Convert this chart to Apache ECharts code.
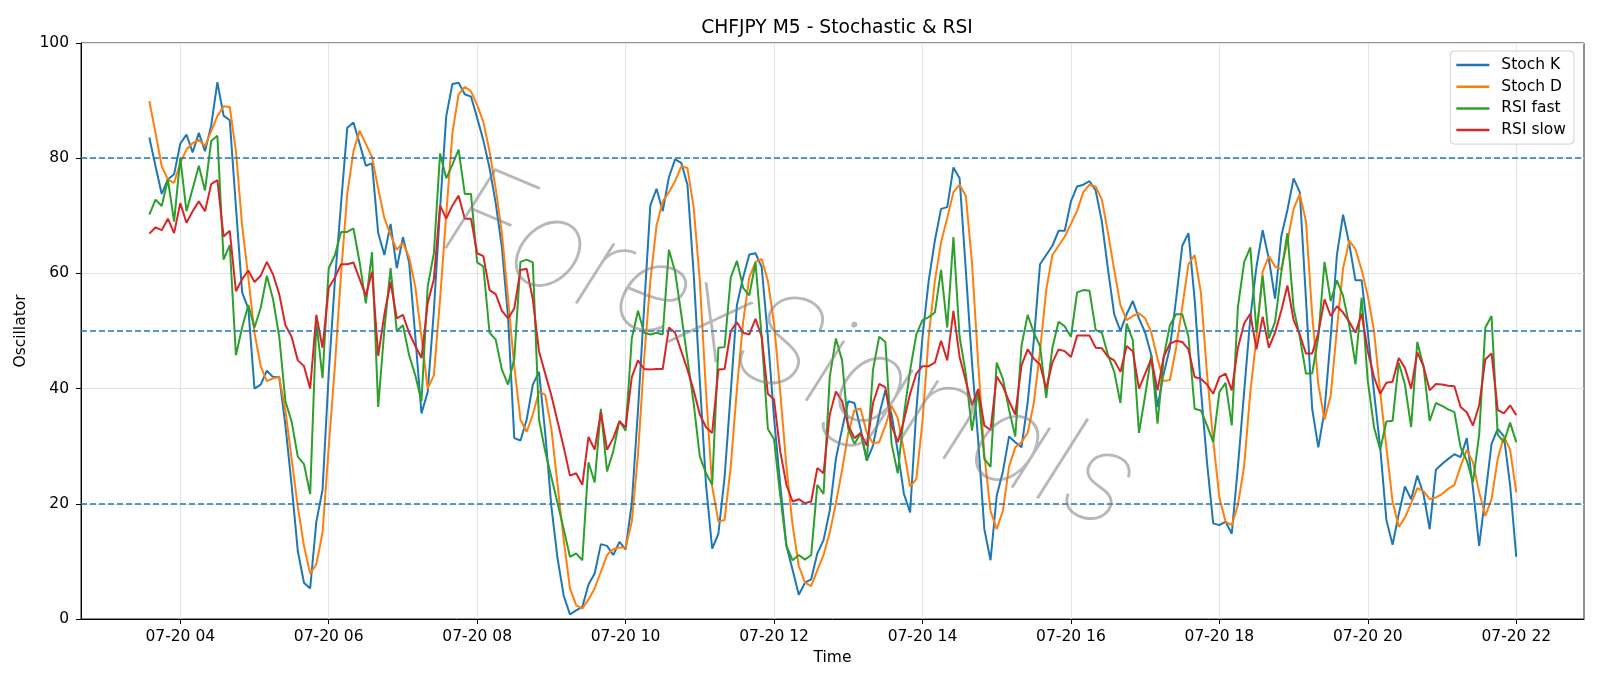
<!DOCTYPE html>
<html>
<head>
<meta charset="utf-8">
<script src="https://cdn.jsdelivr.net/npm/echarts@6/dist/echarts.min.js"></script>
<style>
html,body{margin:0;padding:0;background:#fff;}
#chart{width:1600px;height:686px;}
</style>
</head>
<body>
<div id="chart"></div>
<script>
// Time base: 07-20 03:35, 5-minute bars (M5)
const startMinute = 215;   // 03:35 in minutes since 00:00
const stepMinute = 5;
const xTicks = [240, 360, 480, 600, 720, 840, 960, 1080, 1200, 1320];
const yTicks = [0, 20, 40, 60, 80, 100];
const levels = [20, 50, 80];

const stochK = [
83.6,78.6,73.8,76.3,77.2,82.5,84.1,81.0,84.4,81.2,
85.7,93.2,87.4,86.6,71.5,56.7,53.9,40.0,40.7,43.1,
42.0,42.0,33.6,23.3,11.8,6.3,5.3,16.9,22.4,42.6,
58.7,72.2,85.3,86.2,82.5,78.7,79.1,67.0,63.2,68.6,
60.9,66.3,61.9,49.0,35.7,39.4,53.5,71.2,87.3,92.9,
93.1,91.1,90.7,87.0,83.1,78.3,72.2,64.5,52.3,31.4,
31.0,34.6,40.7,42.9,32.3,19.5,10.5,4.0,0.8,1.5,
2.1,6.0,7.9,13.0,12.7,11.1,13.4,12.1,20.1,36.2,
54.2,71.8,74.7,70.8,76.7,79.8,79.2,75.4,60.0,41.3,
23.3,12.2,14.8,24.6,39.4,54.5,59.3,63.3,63.5,61.1,
49.0,34.9,23.3,12.7,8.5,4.2,6.3,6.9,11.4,13.7,
18.8,27.8,33.0,37.8,37.5,33.0,27.5,30.1,35.5,39.7,
35.5,29.1,21.7,18.5,36.2,49.0,58.7,65.7,71.2,71.5,
78.4,76.5,60.6,44.5,31.0,15.6,10.2,21.4,25.6,31.7,
30.7,29.8,37.5,48.4,61.6,63.2,64.8,67.4,67.4,72.5,
75.1,75.4,76.0,74.4,69.0,60.6,52.9,50.0,52.9,55.2,
52.2,49.7,45.8,36.8,42.6,47.1,55.5,64.8,67.0,55.5,
40.0,27.2,16.6,16.3,16.9,14.8,26.5,39.4,52.3,61.2,
67.5,62.5,55.6,66.4,71.0,76.5,74.1,55.5,36.5,29.8,
36.2,49.0,63.2,70.2,65.1,58.8,58.8,49.7,39.4,29.8,
17.2,12.9,18.2,23.0,20.8,24.9,21.7,15.6,25.9,26.9,
27.8,28.6,28.1,31.4,22.7,12.7,21.4,30.4,33.0,31.7,
23.3,10.8
];

const stochD = [
89.9,84.4,78.6,76.3,75.7,79.2,81.5,82.6,83.2,82.1,
84.7,87.3,89.0,88.9,81.2,68.3,59.3,49.7,43.9,41.3,
41.8,42.0,36.2,27.8,19.5,12.7,7.9,9.5,15.0,29.8,
44.0,60.0,73.8,81.2,84.8,82.5,80.2,74.7,69.6,66.7,
64.1,65.3,62.8,57.7,49.0,40.0,42.3,55.5,70.2,84.4,
91.1,92.4,91.6,89.2,86.3,81.2,74.7,67.0,55.5,43.9,
34.6,32.5,35.5,39.5,38.9,33.0,23.3,13.7,5.3,2.4,
1.8,3.4,5.3,8.2,11.1,12.1,12.4,12.4,16.9,28.5,
45.2,58.7,68.3,72.5,74.1,76.0,78.6,78.3,71.5,58.7,
39.4,23.0,16.9,17.2,26.5,40.0,51.6,59.3,62.0,62.5,
58.7,51.3,39.4,26.5,16.3,9.2,6.3,5.7,8.5,11.1,
15.0,20.1,25.9,32.3,36.3,36.5,32.3,30.5,30.7,33.6,
37.0,34.9,29.2,23.0,24.3,34.3,49.0,58.7,65.4,69.6,
74.1,75.4,73.5,61.9,44.5,28.5,18.8,15.6,18.8,26.5,
29.8,30.7,32.3,37.5,46.5,57.1,63.2,64.8,66.4,68.6,
70.9,74.1,75.4,75.1,72.8,67.0,60.6,54.5,51.9,52.6,
53.1,52.2,49.7,45.2,41.3,41.5,47.1,54.2,61.6,63.2,
56.7,42.6,31.0,21.1,16.9,16.3,19.8,26.5,39.4,49.0,
60.3,63.0,61.2,60.7,65.5,71.2,73.8,69.0,52.9,40.7,
34.6,38.8,50.3,60.9,65.7,64.2,60.6,56.1,50.0,39.4,
29.8,20.4,16.0,17.6,20.1,22.7,22.2,20.8,21.1,21.7,
22.6,23.3,26.5,29.4,27.2,22.0,17.9,20.8,27.8,31.7,
29.4,22.0
];

const rsiFast = [
70.2,72.8,71.7,76.3,69.0,80.0,70.8,74.7,78.7,74.4,
83.0,83.9,62.4,64.9,45.8,50.6,54.5,50.6,54.0,59.6,
55.5,49.0,37.8,34.3,28.2,26.9,21.7,51.6,41.8,60.9,
63.2,67.2,67.2,67.8,61.9,54.8,63.7,36.8,50.3,60.9,
50.0,51.0,45.8,42.3,37.8,57.7,63.5,80.8,76.5,78.9,
81.5,73.8,73.8,61.9,61.2,49.7,48.5,43.3,40.7,45.2,
62.0,62.4,61.9,34.6,29.1,24.6,20.1,15.6,10.8,11.4,
10.2,27.2,23.7,36.5,25.6,29.1,34.4,32.7,48.7,53.5,
49.7,49.4,49.7,49.4,64.1,60.3,52.9,45.2,37.5,28.2,
25.3,23.3,47.1,47.2,59.3,62.2,57.5,56.2,61.9,49.0,
33.0,31.2,21.4,12.7,10.2,11.1,10.3,11.1,23.3,21.7,
42.0,48.7,44.9,33.0,30.4,32.3,27.5,43.3,49.0,48.1,
30.4,25.3,35.5,43.2,49.4,51.9,52.4,53.2,60.6,50.6,
66.3,49.0,42.6,32.7,39.7,27.8,26.4,44.5,41.7,36.3,
31.7,47.4,52.8,49.7,47.4,38.4,47.1,51.6,50.8,49.0,
56.7,57.1,57.0,50.2,49.7,45.8,42.9,37.5,51.3,48.4,
32.3,38.8,45.8,33.9,45.5,51.0,52.9,52.9,49.0,36.5,
36.2,33.6,30.7,39.4,41.0,33.6,54.2,61.9,64.5,49.7,
59.6,48.7,51.6,60.1,67.0,53.9,49.0,42.6,42.6,49.0,
62.0,55.2,58.8,56.1,51.0,44.2,55.8,41.3,33.3,29.4,
34.3,34.4,44.5,40.7,33.3,48.1,43.9,34.4,37.5,37.0,
36.4,35.9,29.8,27.5,23.7,32.0,50.6,52.6,32.0,30.7,
34.1,30.7
];

const rsiSlow = [
66.9,68.0,67.5,69.5,67.0,72.2,68.8,70.8,72.5,70.8,
75.5,76.2,66.4,67.4,56.9,59.0,60.5,58.5,59.6,62.0,
59.8,56.4,51.0,49.0,44.9,43.9,40.0,52.8,47.1,57.5,
59.3,61.6,61.6,61.9,59.0,56.1,60.3,45.7,52.9,58.5,
52.2,52.8,49.7,47.4,45.3,54.8,59.0,71.8,69.5,71.8,
73.5,69.5,69.5,63.5,63.0,57.1,56.4,53.5,52.2,53.9,
60.6,60.8,55.5,46.5,42.6,38.8,34.3,29.8,24.9,25.3,
23.3,31.6,29.4,35.9,29.4,31.4,34.3,33.3,42.0,44.9,
43.4,43.3,43.4,43.4,50.6,49.7,46.5,43.3,39.7,35.5,
33.3,32.3,43.3,43.4,50.0,51.5,49.7,49.4,52.1,49.0,
39.1,38.1,29.1,23.3,20.4,20.8,20.1,20.4,26.2,25.3,
35.5,39.5,37.8,33.6,31.4,32.3,30.1,37.5,40.8,40.2,
33.6,30.7,34.5,39.1,42.6,43.9,43.9,44.5,48.3,44.9,
53.5,45.5,41.3,37.1,39.9,33.6,32.8,42.1,40.4,37.8,
35.5,44.0,46.8,45.2,44.2,40.0,44.5,46.8,46.5,45.5,
49.2,49.2,49.2,47.1,47.0,45.5,44.9,42.9,47.4,46.5,
40.0,42.6,45.2,39.7,45.5,47.8,48.3,48.1,46.8,42.0,
41.7,40.7,39.1,42.0,42.6,39.7,47.1,51.3,53.0,46.8,
52.5,47.1,49.7,53.5,57.9,51.9,49.4,46.1,46.1,49.7,
55.5,52.6,54.3,53.2,51.6,49.7,53.0,46.5,42.0,39.1,
41.0,41.2,45.3,43.6,40.0,46.3,43.9,39.7,40.8,40.7,
40.5,40.4,36.8,35.9,33.6,37.1,45.1,46.1,36.3,35.7,
37.1,35.4
];

const times = stochK.map((_, i) => startMinute + i * stepMinute);
const pairs = arr => arr.map((v, i) => [times[i], v]);
const pad = n => (n < 10 ? '0' : '') + n;
const fmtTime = v => '07-20 ' + pad(Math.round(v / 60));

const FONT = 'DejaVu Sans';
const chart = echarts.init(document.getElementById('chart'), null, {renderer: 'canvas'});

const lineSeries = (name, data, color) => ({
  name: name, type: 'line', data: pairs(data), showSymbol: false, symbol: 'none',
  lineStyle: {color: color, width: 2}, itemStyle: {color: color},
  emphasis: {disabled: true}, animation: false, z: 3
});

const option = {
  backgroundColor: '#ffffff',
  animation: false,
  title: {
    text: 'CHFJPY M5 - Stochastic & RSI',
    left: 832, top: 14, textAlign: 'center',
    textStyle: {fontFamily: FONT, fontSize: 18.7, fontWeight: 'normal', color: '#000'}
  },
  legend: {
    orient: 'vertical', right: 26, top: 51,
    data: ['Stoch K', 'Stoch D', 'RSI fast', 'RSI slow'],
    icon: 'rect', itemWidth: 33, itemHeight: 2.5, itemGap: 5.7,
    padding: [6, 8, 6, 6],
    backgroundColor: 'rgba(255,255,255,0.85)', borderColor: '#d0d0d0', borderWidth: 1, borderRadius: 4,
    textStyle: {fontFamily: FONT, fontSize: 15.5, color: '#000', lineHeight: 16, padding: [0, 0, 0, 7]},
    selectedMode: false
  },
  graphic: [{
    type: 'text', x: 790, y: 352, rotation: -0.4, z: 10, silent: true,
    style: {
      text: 'ForexSignals', fontFamily: 'Inter, Lato, Roboto, sans-serif', fontStyle: 'italic', fontWeight: 100, fontSize: 128,
      fill: 'rgba(125,125,125,0.55)', align: 'center', verticalAlign: 'middle',
      shadowColor: 'rgba(0,0,0,0.22)', shadowBlur: 2, shadowOffsetX: 3, shadowOffsetY: 4
    }
  }],
  grid: {left: 81, right: 16, top: 43, bottom: 67, show: true, borderColor: '#222', borderWidth: 1, backgroundColor: 'transparent'},
  xAxis: {
    type: 'value', min: 159.75, max: 1374.75,
    name: 'Time', nameLocation: 'middle', nameGap: 30,
    nameTextStyle: {fontFamily: FONT, fontSize: 15.5, color: '#000'},
    axisLine: {show: true, lineStyle: {color: '#000', width: 1}},
    axisTick: {show: true, inside: false, length: 5, customValues: xTicks, lineStyle: {color: '#000'}},
    axisLabel: {customValues: xTicks, margin: 10, formatter: fmtTime, fontFamily: FONT, fontSize: 15.5, color: '#000'},
    splitLine: {show: true, lineStyle: {color: '#e4e4e4', width: 1}}
  },
  yAxis: {
    type: 'value', min: 0, max: 100, interval: 20,
    name: 'Oscillator', nameLocation: 'middle', nameGap: 47,
    nameTextStyle: {fontFamily: FONT, fontSize: 15.5, color: '#000'},
    axisLine: {show: true, lineStyle: {color: '#000', width: 1}},
    axisTick: {show: true, inside: false, length: 5, lineStyle: {color: '#000'}},
    axisLabel: {margin: 12, fontFamily: FONT, fontSize: 15.5, color: '#000'},
    splitLine: {show: true, lineStyle: {color: '#e4e4e4', width: 1}}
  },
  series: [
    lineSeries('Stoch K', stochK, '#1f77b4'),
    lineSeries('Stoch D', stochD, '#ff7f0e'),
    lineSeries('RSI fast', rsiFast, '#2ca02c'),
    Object.assign(lineSeries('RSI slow', rsiSlow, '#d62728'), {
      markLine: {
        silent: true, symbol: ['none', 'none'], label: {show: false},
        lineStyle: {color: '#1f77b4', type: [6, 3], width: 1.5},
        emphasis: {disabled: true},
        data: levels.map(v => ({yAxis: v}))
      }
    })
  ]
};
chart.setOption(option);
</script>
</body>
</html>
